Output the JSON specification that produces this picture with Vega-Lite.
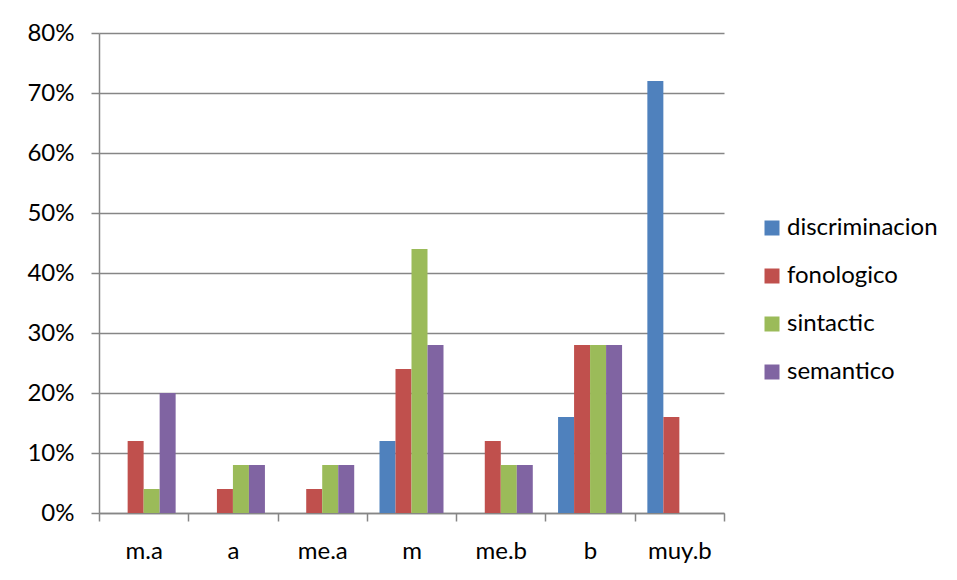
{
  "$schema": "https://vega.github.io/schema/vega-lite/v6.json",
  "autosize": {"type": "none"},
  "width": 625,
  "height": 480,
  "padding": {"left": 99, "top": 33, "right": 233, "bottom": 67},
  "background": "white",
  "data": {"values": [
    {"cat": "m.a", "serie": "discriminacion", "v": 0},
    {"cat": "m.a", "serie": "fonologico", "v": 0.12},
    {"cat": "m.a", "serie": "sintactic", "v": 0.04},
    {"cat": "m.a", "serie": "semantico", "v": 0.20},
    {"cat": "a", "serie": "discriminacion", "v": 0},
    {"cat": "a", "serie": "fonologico", "v": 0.04},
    {"cat": "a", "serie": "sintactic", "v": 0.08},
    {"cat": "a", "serie": "semantico", "v": 0.08},
    {"cat": "me.a", "serie": "discriminacion", "v": 0},
    {"cat": "me.a", "serie": "fonologico", "v": 0.04},
    {"cat": "me.a", "serie": "sintactic", "v": 0.08},
    {"cat": "me.a", "serie": "semantico", "v": 0.08},
    {"cat": "m", "serie": "discriminacion", "v": 0.12},
    {"cat": "m", "serie": "fonologico", "v": 0.24},
    {"cat": "m", "serie": "sintactic", "v": 0.44},
    {"cat": "m", "serie": "semantico", "v": 0.28},
    {"cat": "me.b", "serie": "discriminacion", "v": 0},
    {"cat": "me.b", "serie": "fonologico", "v": 0.12},
    {"cat": "me.b", "serie": "sintactic", "v": 0.08},
    {"cat": "me.b", "serie": "semantico", "v": 0.08},
    {"cat": "b", "serie": "discriminacion", "v": 0.16},
    {"cat": "b", "serie": "fonologico", "v": 0.28},
    {"cat": "b", "serie": "sintactic", "v": 0.28},
    {"cat": "b", "serie": "semantico", "v": 0.28},
    {"cat": "muy.b", "serie": "discriminacion", "v": 0.72},
    {"cat": "muy.b", "serie": "fonologico", "v": 0.16},
    {"cat": "muy.b", "serie": "sintactic", "v": 0},
    {"cat": "muy.b", "serie": "semantico", "v": 0}
  ]},
  "mark": {"type": "bar"},
  "encoding": {
    "x": {
      "field": "cat", "type": "nominal", "sort": null, "title": null,
      "scale": {"paddingInner": 0, "paddingOuter": 0},
      "axis": {
        "labelAngle": 0, "tickBand": "extent", "tickSize": 8, "tickColor": "#868686",
        "domainColor": "#868686", "domainWidth": 1.5, "tickWidth": 1.5,
        "labelPadding": 18, "labelFontSize": 24, "labelFont": "Lato", "labelColor": "#000000",
        "grid": false
      }
    },
    "xOffset": {
      "field": "serie", "type": "nominal", "sort": ["discriminacion", "fonologico", "sintactic", "semantico"],
      "scale": {"paddingInner": 0, "paddingOuter": 0.79}
    },
    "y": {
      "field": "v", "type": "quantitative", "title": null,
      "scale": {"domain": [0, 0.8], "nice": false},
      "axis": {
        "format": ".0%", "values": [0, 0.1, 0.2, 0.3, 0.4, 0.5, 0.6, 0.7, 0.8],
        "tickSize": 8, "tickColor": "#868686", "tickWidth": 1.5,
        "domainColor": "#868686", "domainWidth": 1.5,
        "gridColor": "#868686", "gridWidth": 1.5,
        "labelPadding": 17, "labelFontSize": 24, "labelFont": "Lato", "labelColor": "#000000"
      }
    },
    "color": {
      "field": "serie", "type": "nominal", "title": null,
      "sort": ["discriminacion", "fonologico", "sintactic", "semantico"],
      "scale": {"domain": ["discriminacion", "fonologico", "sintactic", "semantico"],
                "range": ["#4F81BD", "#C0504D", "#9BBB59", "#8064A2"]},
      "legend": {
        "orient": "none", "legendX": 661, "legendY": 183,
        "symbolType": "square", "symbolSize": 225, "symbolStrokeWidth": 0,
        "labelFontSize": 24, "labelFont": "Lato", "labelColor": "#000000",
        "rowPadding": 24, "labelOffset": 3
      }
    }
  },
  "config": {"view": {"stroke": null}}
}
